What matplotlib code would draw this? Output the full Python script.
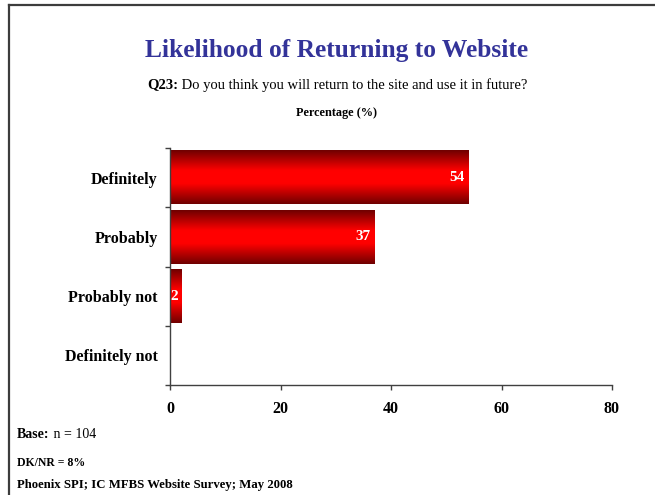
import matplotlib.pyplot as plt
import numpy as np
from matplotlib.colors import LinearSegmentedColormap
from matplotlib.lines import Line2D

plt.rcParams['font.family'] = ['Liberation Serif', 'DejaVu Serif']

# Survey answers, top to bottom
categories = ["Definitely", "Probably", "Probably not", "Definitely not"]
percentages = [54, 37, 2, 0]
x_ticks = [0, 20, 40, 60, 80]

W, H = 655, 495
fig = plt.figure(figsize=(W / 100, H / 100), dpi=100)
renderer = fig.canvas.get_renderer()


def mixed_line(x, y, bold, regular, size, ha='left'):
    """Bold lead-in followed by regular text, placed in figure pixels."""
    b = fig.text(0, 0, bold, fontsize=size, fontweight='bold', va='center')
    r = fig.text(0, 0, regular, fontsize=size, va='center')
    wb = b.get_window_extent(renderer).width
    wr = r.get_window_extent(renderer).width
    x0 = x - (wb + wr) / 2 if ha == 'center' else x
    b.set_position((x0 / W, 1 - y / H))
    r.set_position(((x0 + wb) / W, 1 - y / H))


# Slide frame: line along the top and the left
frame_col = '#3c3c3c'
fig.add_artist(Line2D([9 / W, 1], [1 - 5 / H, 1 - 5 / H], color=frame_col, lw=1.6, transform=fig.transFigure))
fig.add_artist(Line2D([9 / W, 9 / W], [1 - 5 / H, 0], color=frame_col, lw=1.6, transform=fig.transFigure))

fig.text(337 / W, 1 - 51 / H, "Likelihood of Returning to Website", ha='center', va='center',
         fontsize=18.4, fontweight='bold', color='#333399')
mixed_line(337, 85, "Q23:", " Do you think you will return to the site and use it in future?", 10.5, ha='center')
fig.text(337 / W, 1 - 113 / H, "Percentage (%)", ha='center', va='center', fontsize=8.8, fontweight='bold')

ax = fig.add_axes([170 / W, 1 - 385 / H, (612 - 170) / W, (385 - 148) / H])

pos = np.arange(len(categories))
bars = ax.barh(pos, percentages, height=0.9, facecolor='none', edgecolor='none')

# Vertical shading: dark red edges, bright red centre
shade = LinearSegmentedColormap.from_list(
    'shade', [(0, '#6e0000'), (0.38, '#ff0000'), (0.62, '#ff0000'), (1, '#6e0000')])
grad = np.linspace(0, 1, 256).reshape(-1, 1)
for bar, val in zip(bars, percentages):
    if val <= 0:
        continue
    x0, y0 = bar.get_xy()
    ax.imshow(grad, extent=[x0, x0 + bar.get_width(), y0 + bar.get_height(), y0],
              cmap=shade, aspect='auto', interpolation='bicubic', zorder=2)
    ax.annotate(str(val), (val, bar.get_y() + bar.get_height() / 2), xytext=(-2.5, 0),
                textcoords='offset points', ha='right', va='center', color='white',
                fontsize=11, fontweight='bold', zorder=3)

ax.set_xlim(0, 80)
ax.set_ylim(len(categories) - 0.5, -0.5)

ax.set_xticks(x_ticks)
ax.set_xticklabels([str(t) for t in x_ticks], fontsize=11.5, fontweight='bold')
ax.tick_params(axis='x', direction='out', length=3.5, width=1, color='#404040', pad=8)

# boundary ticks on the category axis, labels between them
ax.set_yticks(np.arange(len(categories) + 1) - 0.5)
ax.set_yticklabels([])
ax.set_yticks(pos, minor=True)
ax.set_yticklabels(categories, minor=True, fontsize=11.5, fontweight='bold')
ax.tick_params(axis='y', which='major', direction='out', length=3.5, width=1, color='#404040')
ax.tick_params(axis='y', which='minor', length=0, pad=9)

for side in ['top', 'right']:
    ax.spines[side].set_visible(False)
for side in ['left', 'bottom']:
    ax.spines[side].set_color('#404040')
    ax.spines[side].set_linewidth(1)

mixed_line(17, 435, "Base:", " n = 104", 10)
fig.text(17 / W, 1 - 463 / H, "DK/NR = 8%", ha='left', va='center', fontsize=8.5, fontweight='bold')
fig.text(17 / W, 1 - 485 / H, "Phoenix SPI; IC MFBS Website Survey; May 2008", ha='left', va='center',
         fontsize=9.2, fontweight='bold')

fig.savefig('out.png', dpi=100)
